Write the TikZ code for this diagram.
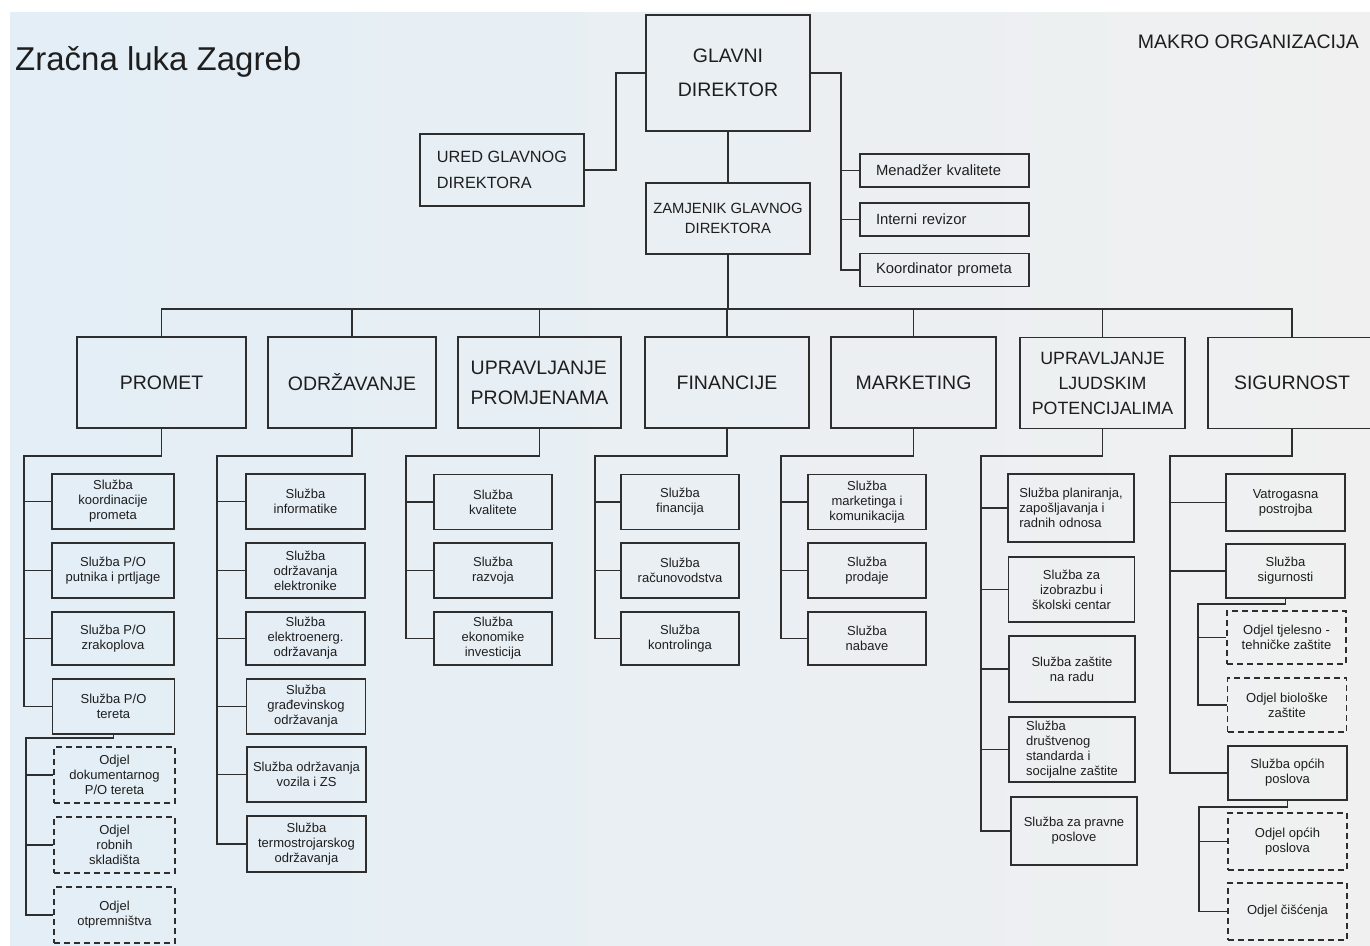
\documentclass[tikz,border=0pt]{standalone}
\usepackage{fontspec}
\setmainfont{Liberation Sans}
\definecolor{ink}{HTML}{1E1E1E}
\definecolor{rule}{HTML}{2E2E2E}
\definecolor{paperblue}{HTML}{E3EEF6}
\definecolor{papergray}{HTML}{F0F0F0}
\tikzstyle{line}=[draw=rule,line width=1.8pt]
\tikzstyle{box}=[draw=rule,line width=1.8pt,inner sep=0pt,text=ink,align=center]
\tikzstyle{chief}=[box,minimum width=164pt,font=\fontsize{19.5}{34}\selectfont]
\tikzstyle{staff}=[box,minimum height=33pt,text width=137pt,inner xsep=16pt,align=left,
font=\fontsize{14.8}{18}\selectfont]
\tikzstyle{dept}=[box,minimum height=91pt,font=\fontsize{19.5}{30}\selectfont]
\tikzstyle{unit}=[box,minimum width=119pt,minimum height=55pt,font=\fontsize{13}{15}\selectfont]
\tikzstyle{odjel}=[unit,dash pattern=on 6pt off 4pt]

\begin{document}
\begin{tikzpicture}[x=1pt,y=-1pt]

	\useasboundingbox (0,0) rectangle (1370,945);
	\fill[white] (0,0) rectangle (1370,945);
	\shade[left color=paperblue,right color=papergray] (10,12) rectangle (1370,945);

	%titles
	\node[anchor=base west,inner sep=0pt,text=ink,font=\fontsize{33}{33}\selectfont] (title) at (15,70) {Zračna luka Zagreb};
	\node[anchor=base east,inner sep=0pt,text=ink,font=\fontsize{19.5}{20}\selectfont] (makro) at (1359,48) {MAKRO ORGANIZACIJA};

	%uprava
	\node[chief,minimum height=116pt] (gd) at (728,73) {GLAVNI\\DIREKTOR};
	\node[chief,minimum height=72pt,align=left,font=\fontsize{16.3}{26}\selectfont] (ured) at (502,170) {URED GLAVNOG\\DIREKTORA};
	\node[chief,minimum height=71pt,font=\fontsize{14.8}{20}\selectfont] (zam) at (728,218.5) {ZAMJENIK GLAVNOG\\DIREKTORA};

	\node[staff] (kval) at (944.5,170.5) {Menadžer kvalitete};
	\node[staff] (rev) at (944.5,219.5) {Interni revizor};
	\node[staff] (koord) at (944.5,270) {Koordinator prometa};

	\draw[line] (gd.south) -- (zam.north);
	\draw[line] (ured.east) -- ++(31,0) |- (gd.west);
	\path (gd.east) ++(30,0) coordinate (staff);
	\draw[line] (gd.east) -- (staff) |- (koord.west);
	\draw[line] (staff) |- (kval.west);
	\draw[line] (staff) |- (rev.west);

	%sektori
	\node[dept,minimum width=169pt] (promet) at (161.5,382.5) {PROMET};
	\node[dept,minimum width=168pt] (odrz) at (352,382.5) {ODRŽAVANJE};
	\node[dept,minimum width=163pt,align=left] (uprom) at (539.5,382.5) {UPRAVLJANJE\\PROMJENAMA};
	\node[dept,minimum width=164pt] (fin) at (727,382.5) {FINANCIJE};
	\node[dept,minimum width=165pt] (mark) at (913.5,382.5) {MARKETING};
	\node[dept,minimum width=165pt,font=\fontsize{17.8}{25}\selectfont] (uljp) at (1102.5,383) {UPRAVLJANJE\\LJUDSKIM\\POTENCIJALIMA};
	\node[dept,minimum width=168pt] (sig) at (1292,383) {SIGURNOST};

	\coordinate (bus) at (728,309);
	\draw[line] (zam.south) -- (bus);
	\draw[line] (promet.north) |- (bus) -| (sig.north);
	\draw[line] (odrz.north) -- (odrz.north |- bus);
	\draw[line] (uprom.north) -- (uprom.north |- bus);
	\draw[line] (fin.north) -- (fin.north |- bus);
	\draw[line] (mark.north) -- (mark.north |- bus);
	\draw[line] (uljp.north) -- (uljp.north |- bus);

	%promet
	\node[unit,minimum width=122pt] (pr1) at (113,501.5) {Služba\\koordinacije\\prometa};
	\node[unit,minimum width=122pt] (pr2) at (113,570.5) {Služba P/O\\putnika i prtljage};
	\node[unit,minimum width=122pt,minimum height=53pt] (pr3) at (113,638.5) {Služba P/O\\zrakoplova};
	\node[unit,minimum width=122pt] (pr4) at (113.5,706.5) {Služba P/O\\tereta};
	\node[odjel,minimum width=121pt,minimum height=56pt] (pr5) at (114.5,775) {Odjel\\dokumentarnog\\P/O tereta};
	\node[odjel,minimum width=121pt,minimum height=56pt] (pr6) at (114.5,845) {Odjel\\robnih\\skladišta};
	\node[odjel,minimum width=121pt,minimum height=56pt] (pr7) at (114.5,915) {Odjel\\otpremništva};

	\coordinate (pr spine) at (24,456);
	\coordinate (pr odjel) at (26,738);
	\draw[line] (promet.south) |- (pr spine) |- (pr4.west);
	\draw[line] (pr spine) |- (pr1.west);
	\draw[line] (pr spine) |- (pr2.west);
	\draw[line] (pr spine) |- (pr3.west);
	\draw[line] (pr4.south) |- (pr odjel) |- (pr7.west);
	\draw[line] (pr odjel) |- (pr5.west);
	\draw[line] (pr odjel) |- (pr6.west);

	%odrzavanje
	\node[unit] (od1) at (305.5,501.5) {Služba\\informatike};
	\node[unit] (od2) at (305.5,570.5) {Služba\\održavanja\\elektronike};
	\node[unit,minimum height=53pt] (od3) at (305.5,638.5) {Služba\\elektroenerg.\\održavanja};
	\node[unit] (od4) at (306,706.5) {Služba\\građevinskog\\održavanja};
	\node[unit] (od5) at (306.5,774.5) {Služba održavanja\\vozila i ZS};
	\node[unit,minimum height=56pt] (od6) at (306.5,844) {Služba\\termostrojarskog\\održavanja};

	\coordinate (od spine) at (217,456);
	\draw[line] (odrz.south) |- (od spine) |- (od6.west);
	\draw[line] (od spine) |- (od1.west);
	\draw[line] (od spine) |- (od2.west);
	\draw[line] (od spine) |- (od3.west);
	\draw[line] (od spine) |- (od4.west);
	\draw[line] (od spine) |- (od5.west);

	%upravljanje promjenama
	\node[unit,minimum width=118pt] (up1) at (493,502) {Služba\\kvalitete};
	\node[unit,minimum width=118pt] (up2) at (493,570.5) {Služba\\razvoja};
	\node[unit,minimum width=118pt,minimum height=53pt] (up3) at (493,638.5) {Služba\\ekonomike\\investicija};

	\coordinate (up spine) at (406,456);
	\draw[line] (uprom.south) |- (up spine) |- (up3.west);
	\draw[line] (up spine) |- (up1.west);
	\draw[line] (up spine) |- (up2.west);

	%financije
	\node[unit,minimum width=118pt] (fi1) at (680,502) {Služba\\financija};
	\node[unit,minimum width=118pt] (fi2) at (680,570.5) {Služba\\računovodstva};
	\node[unit,minimum width=118pt,minimum height=53pt] (fi3) at (680,638.5) {Služba\\kontrolinga};

	\coordinate (fi spine) at (595,456);
	\draw[line] (fin.south) |- (fi spine) |- (fi3.west);
	\draw[line] (fi spine) |- (fi1.west);
	\draw[line] (fi spine) |- (fi2.west);

	%marketing
	\node[unit,minimum width=118pt] (ma1) at (867,502) {Služba\\marketinga i\\komunikacija};
	\node[unit,minimum width=118pt] (ma2) at (867,570.5) {Služba\\prodaje};
	\node[unit,minimum width=118pt,minimum height=53pt] (ma3) at (867,638.5) {Služba\\nabave};

	\coordinate (ma spine) at (781,456);
	\draw[line] (mark.south) |- (ma spine) |- (ma3.west);
	\draw[line] (ma spine) |- (ma1.west);
	\draw[line] (ma spine) |- (ma2.west);

	%ljudski potencijali
	\node[unit,minimum width=126pt,minimum height=68pt,align=left] (lj1) at (1071,508) {Služba planiranja,\\zapošljavanja i\\radnih odnosa};
	\node[unit,minimum width=126pt,minimum height=65pt] (lj2) at (1071.5,589.5) {Služba za\\izobrazbu i\\školski centar};
	\node[unit,minimum width=126pt,minimum height=66pt] (lj3) at (1072,669) {Služba zaštite\\na radu};
	\node[unit,minimum width=126pt,minimum height=65pt,align=left] (lj4) at (1072,749.5) {Služba\\društvenog\\standarda i\\socijalne zaštite};
	\node[unit,minimum width=126pt,minimum height=68pt] (lj5) at (1074,831) {Služba za pravne\\poslove};

	\coordinate (lj spine) at (981,456);
	\draw[line] (uljp.south) |- (lj spine) |- (lj5.west);
	\draw[line] (lj spine) |- (lj1.west);
	\draw[line] (lj spine) |- (lj2.west);
	\draw[line] (lj spine) |- (lj3.west);
	\draw[line] (lj spine) |- (lj4.west);

	%sigurnost
	\node[unit,minimum height=57pt] (si1) at (1285.5,502.5) {Vatrogasna\\postrojba};
	\node[unit,minimum height=54pt] (si2) at (1285.5,571) {Služba\\sigurnosti};
	\node[odjel,minimum height=53pt] (si3) at (1286.5,637.5) {Odjel tjelesno -\\tehničke zaštite};
	\node[odjel,minimum height=54pt] (si4) at (1287,705) {Odjel biološke\\zaštite};
	\node[unit,minimum height=54pt] (si5) at (1287.5,773) {Služba općih\\poslova};
	\node[odjel,minimum height=57pt] (si6) at (1287.5,841.5) {Odjel općih\\poslova};
	\node[odjel,minimum height=57pt] (si7) at (1287.5,911.5) {Odjel čišćenja};

	\coordinate (si spine) at (1170,456);
	\coordinate (si odjel) at (1198,604);
	\coordinate (si opci) at (1199,807);
	\draw[line] (sig.south) |- (si spine) |- (si5.west);
	\draw[line] (si spine) |- (si1.west);
	\draw[line] (si spine) |- (si2.west);
	\draw[line] (si2.south) |- (si odjel) |- (si4.west);
	\draw[line] (si odjel) |- (si3.west);
	\draw[line] (si5.south) |- (si opci) |- (si7.west);
	\draw[line] (si opci) |- (si6.west);
\end{tikzpicture}
\end{document}
